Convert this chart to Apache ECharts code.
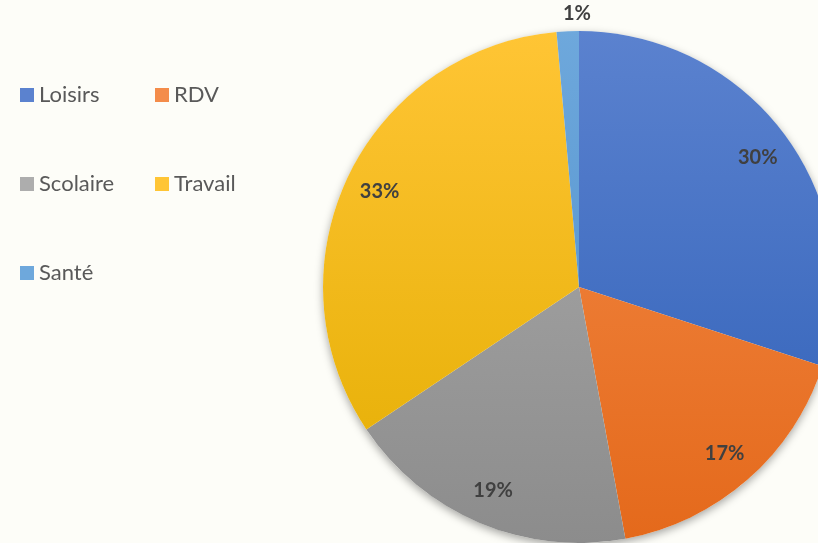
<!DOCTYPE html>
<html>
<head>
<meta charset="utf-8">
<script src="https://cdn.jsdelivr.net/npm/echarts@6/dist/echarts.min.js"></script>
<style>
  html, body { margin: 0; padding: 0; background: #fdfdf8; }
  #main { width: 818px; height: 543px; }
</style>
</head>
<body>
<div id="main"></div>
<script>
// catégories et parts
var categories = ['Loisirs', 'RDV', 'Scolaire', 'Travail', 'Santé'];
var values = [30, 17.1, 18.5, 33, 1.4];
// couleurs haut / bas du dégradé
var topColors = ['#5b82cf', '#f48c4a', '#adadad', '#ffc535', '#6ea8dc'];
var bottomColors = ['#2e5fb7', '#e4691b', '#8c8c8c', '#e3ad00', '#4a8cc9'];

var chart = echarts.init(document.getElementById('main'));

function grad(i) {
    return new echarts.graphic.LinearGradient(0, 30, 0, 543, [
        { offset: 0, color: topColors[i] },
        { offset: 1, color: bottomColors[i] }
    ], true);
}

var pieData = categories.map(function (name, i) {
    return { name: name, value: values[i], itemStyle: { color: grad(i) } };
});

var center = [579, 287];
var legendText = { fontFamily: 'Lato', fontSize: 22, lineHeight: 20, color: '#595959' };

var option = {
    backgroundColor: '#fdfdf8',
    animation: false,
    legend: [{
        orient: 'vertical',
        left: 20,
        top: 84,
        padding: 0,
        icon: 'rect',
        itemWidth: 14,
        itemHeight: 14,
        itemGap: 67,
        data: ['Loisirs', 'Scolaire', 'Santé'],
        textStyle: legendText
    }, {
        orient: 'vertical',
        left: 155,
        top: 84,
        padding: 0,
        icon: 'rect',
        itemWidth: 14,
        itemHeight: 14,
        itemGap: 67,
        data: ['RDV', 'Travail'],
        textStyle: legendText
    }],
    series: [{
        // ombre sous le camembert
        type: 'pie',
        center: center,
        radius: 256,
        silent: true,
        label: { show: false },
        labelLine: { show: false },
        itemStyle: {
            color: '#fdfdf8',
            shadowBlur: 8,
            shadowOffsetY: 3,
            shadowColor: 'rgba(0,0,0,0.35)'
        },
        data: [{ name: '', value: 1 }]
    }, {
        name: 'Motifs',
        type: 'pie',
        center: center,
        radius: 256,
        startAngle: 90,
        clockwise: true,
        label: { show: false },
        labelLine: { show: false },
        data: pieData
    }, {
        // étiquettes intérieures
        type: 'pie',
        center: center,
        radius: [180, 256],
        startAngle: 90,
        silent: true,
        percentPrecision: 0,
        itemStyle: { color: 'transparent' },
        labelLine: { show: false },
        label: {
            position: 'inside',
            formatter: function (p) { return p.dataIndex === 4 ? '' : p.percent + '%'; },
            fontFamily: 'Lato',
            fontWeight: 'bold',
            fontSize: 20,
            color: '#404040'
        },
        data: categories.map(function (name, i) { return { name: name, value: values[i] }; })
    }, {
        // étiquette extérieure (Santé)
        type: 'pie',
        center: center,
        radius: [256, 286],
        startAngle: 90,
        silent: true,
        percentPrecision: 0,
        itemStyle: { color: 'transparent' },
        labelLine: { show: false },
        label: {
            position: 'inside',
            offset: [10, 0],
            formatter: function (p) { return p.dataIndex === 4 ? p.percent + '%' : ''; },
            fontFamily: 'Lato',
            fontWeight: 'bold',
            fontSize: 20,
            color: '#404040'
        },
        data: categories.map(function (name, i) { return { name: name, value: values[i] }; })
    }]
};

chart.setOption(option);
</script>
</body>
</html>
